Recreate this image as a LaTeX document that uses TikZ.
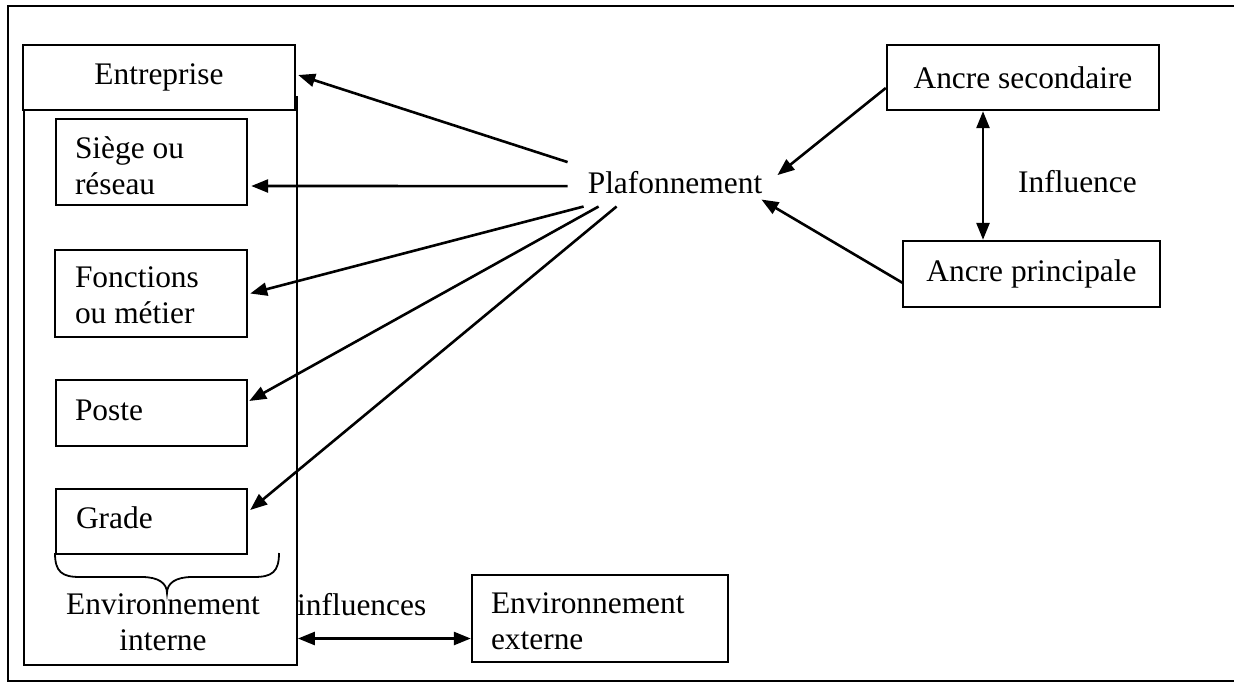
\documentclass[tikz,border=0pt]{standalone}
\usepackage{fontspec}
\setmainfont{Liberation Serif}
\usetikzlibrary{arrows.meta}
\begin{document}
\begin{tikzpicture}[x=1pt,y=-1pt,font=\fontsize{31.4}{36}\selectfont]
\tikzstyle{res}=[draw,line width=2.4pt,inner sep=0pt];
\tikzstyle{txt}=[inner sep=0pt,anchor=north west,align=left];
\tikzstyle{alloc}=[-{Triangle[length=17pt,width=13pt]},line width=2.6pt];
\tikzstyle{both}=[{Triangle[length=17pt,width=13pt]}-{Triangle[length=17pt,width=13pt]},line width=2.6pt];
\useasboundingbox (0,0) rectangle (1234,683);
\draw [line width=2.6pt] (1240,6) -- (8,6) -- (8,681) -- (1240,681);

\node [res,line width=1.8pt,minimum width=273pt,minimum height=568pt] (v0) at (160.5,381) {};
\node [res,fill=white,minimum width=272pt,minimum height=65pt] (v1) at (159,77.5) {Entreprise};
\node [res,minimum width=191pt,minimum height=86pt] (v2) at (151.5,162) {};
\node [txt] at ([xshift=20pt,yshift=-18.3pt]v2.north west) {Siège ou\\réseau};
\node [res,minimum width=192pt,minimum height=87pt] (v3) at (151,293.5) {};
\node [txt] at ([xshift=21pt,yshift=-17.6pt]v3.north west) {Fonctions\\ou métier};
\node [res,minimum width=191pt,minimum height=66pt] (v4) at (151.5,413) {};
\node [txt,anchor=base west] at ([xshift=20pt,yshift=-7pt]v4.west) {Poste};
\node [res,minimum width=191pt,minimum height=65pt] (v5) at (151.5,521.5) {};
\node [txt,anchor=base west] at ([xshift=21pt,yshift=-6.5pt]v5.west) {Grade};
\draw [line width=1.8pt] (55,553) .. controls (55,572) and (62,577) .. (80,577) -- (142,577) .. controls (158,577) and (167,583) .. (167,593) .. controls (167,583) and (176,577) .. (192,577) -- (254,577) .. controls (272,577) and (279,572) .. (279,553);
\node [txt,anchor=north,align=center] at (163,593.6) {Environnement\\interne};

\node [res,minimum width=256pt,minimum height=87pt] (v6) at (600,618.5) {};
\node [txt] at ([xshift=20pt,yshift=-18.6pt]v6.north west) {Environnement\\externe};
\node [txt,anchor=base west] at (297,615) {influences};
\coordinate (c1) at ([yshift=-20pt]v6.west);
\draw [both] (v0.east |- c1) -- (c1);

\node [inner sep=0pt,anchor=base] (v7) at (675,193) {Plafonnement};
\draw [alloc] ([xshift=-20pt,yshift=20pt]v7.west) -- ([xshift=2pt,yshift=2.5pt]v1.east);
\draw [alloc] ([xshift=-20pt,yshift=-4pt]v7.west) -- ([xshift=3pt,yshift=-24pt]v2.east);
\draw [alloc] ([xshift=-4pt,yshift=-13pt]v7.south west) -- ([xshift=2pt]v3.east);
\draw [alloc] ([xshift=11pt,yshift=-13pt]v7.south west) -- ([xshift=1pt,yshift=12pt]v4.east);
\draw [alloc] ([xshift=29pt,yshift=-13pt]v7.south west) -- ([xshift=2pt,yshift=11.5pt]v5.east);

\node [res,minimum width=272pt,minimum height=65pt] (v8) at (1023,77.5) {Ancre secondaire};
\node [res,minimum width=257pt,minimum height=66pt] (v9) at (1031.5,274) {Ancre principale};
\node [txt,anchor=base west] at (1018,192) {Influence};
\draw [alloc] ([yshift=-10.5pt]v8.west) -- ([xshift=15pt,yshift=7pt]v7.east);
\draw [alloc] ([xshift=1pt,yshift=-9pt]v9.west) -- ([xshift=-1pt,yshift=-6pt]v7.south east);
\draw [both] ([xshift=-40pt]v8.south) -- ([xshift=-48.5pt]v9.north);
\end{tikzpicture}
\end{document}
